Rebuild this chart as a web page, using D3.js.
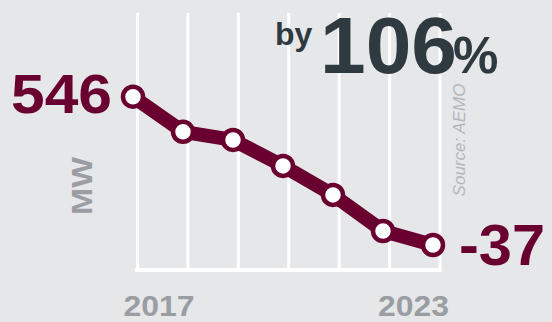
<!DOCTYPE html>
<html>
<head>
<meta charset="utf-8">
<script src="https://cdn.jsdelivr.net/npm/d3@7"></script>
<style>
  html, body { margin: 0; padding: 0; background: #e6e7e9; }
  svg { display: block; font-family: "Liberation Sans", Arial, Helvetica, sans-serif; }
</style>
</head>
<body>
<svg id="chart" width="552" height="322"></svg>
<script>
// Annual minimum operational demand, MW
const years = [2017, 2018, 2019, 2020, 2021, 2022, 2023];
const demandMW = [546, 408, 376, 274, 160, 18, -37];
const tickYears = [2017, 2023];
const dropPct = 106;

const maroon = "#6a0030";
const grey = "#9a9ea2";
const dark = "#2e3a40";

const svg = d3.select("#chart");
const W = 552, H = 322;

svg.append("rect").attr("width", W).attr("height", H).attr("fill", "#e6e7e9");

// gridline scale and series scale
const xGrid = d3.scaleLinear().domain([2017, 2023]).range([137.5, 440]);
const x = d3.scaleLinear().domain([2017, 2023]).range([133, 433]);
const y = d3.scaleLinear().domain([-37, 546]).range([245, 96.7]);

const gridTop = 13, gridBottom = 270;

// vertical gridlines
svg.append("g").selectAll("line").data(years).join("line")
  .attr("x1", d => xGrid(d)).attr("x2", d => xGrid(d))
  .attr("y1", gridTop).attr("y2", gridBottom)
  .attr("stroke", "#fff").attr("stroke-width", 3);

// baseline
svg.append("line")
  .attr("x1", xGrid(2017) - 2.5).attr("x2", xGrid(2023) + 2)
  .attr("y1", gridBottom).attr("y2", gridBottom)
  .attr("stroke", "#fff").attr("stroke-width", 4);

// x tick labels
svg.append("g").selectAll("text").data(tickYears).join("text")
  .attr("x", d => d === 2017 ? xGrid(d) - 14 : xGrid(d) + 9)
  .attr("y", 316)
  .attr("text-anchor", d => d === 2017 ? "start" : "end")
  .attr("font-size", 30).attr("font-weight", "bold")
  .attr("textLength", 71).attr("lengthAdjust", "spacingAndGlyphs")
  .attr("fill", grey)
  .text(d => d);

const pts = years.map((yr, i) => ({ yr, v: demandMW[i] }));

// series line
svg.append("path")
  .datum(pts)
  .attr("d", d3.line().x(d => x(d.yr)).y(d => y(d.v)))
  .attr("fill", "none")
  .attr("stroke", maroon)
  .attr("stroke-width", 14)
  .attr("stroke-linejoin", "round");

// markers
svg.append("g").selectAll("circle").data(pts).join("circle")
  .attr("cx", d => x(d.yr)).attr("cy", d => y(d.v))
  .attr("r", 10)
  .attr("fill", "#fff")
  .attr("stroke", maroon).attr("stroke-width", 4.5);

// end value labels
const first = pts[0], last = pts[pts.length - 1];
svg.append("text")
  .attr("x", x(first.yr) - 21).attr("y", y(first.v) + 16.5)
  .attr("text-anchor", "end")
  .attr("font-size", 56).attr("font-weight", "bold")
  .attr("textLength", 101).attr("lengthAdjust", "spacingAndGlyphs")
  .attr("fill", maroon)
  .text(first.v);

svg.append("text")
  .attr("x", x(last.yr) + 26).attr("y", y(last.v) + 20)
  .attr("text-anchor", "start")
  .attr("font-size", 58).attr("font-weight", "bold")
  .attr("textLength", 86).attr("lengthAdjust", "spacingAndGlyphs")
  .attr("fill", maroon)
  .text(last.v);

// unit label
svg.append("text")
  .attr("transform", "translate(92,186) rotate(-90)")
  .attr("text-anchor", "middle")
  .attr("font-size", 29).attr("font-weight", "bold")
  .attr("textLength", 58).attr("lengthAdjust", "spacingAndGlyphs")
  .attr("fill", grey)
  .text("MW");

// source note
svg.append("text")
  .attr("transform", "translate(465,140) rotate(-90)")
  .attr("text-anchor", "middle")
  .attr("font-size", 17).attr("font-style", "italic")
  .attr("fill", "#b3b6b9")
  .text("Source: AEMO");

// headline
svg.append("text")
  .attr("x", 275).attr("y", 45)
  .attr("font-size", 32).attr("font-weight", "bold")
  .attr("fill", dark)
  .text("by");
svg.append("text")
  .attr("x", 320).attr("y", 73)
  .attr("font-size", 80).attr("font-weight", "bold")
  .attr("textLength", 137).attr("lengthAdjust", "spacingAndGlyphs")
  .attr("fill", dark)
  .text(dropPct);
svg.append("text")
  .attr("x", 453).attr("y", 73)
  .attr("font-size", 51).attr("font-weight", "bold")
  .attr("fill", dark)
  .text("%");
</script>
</body>
</html>
